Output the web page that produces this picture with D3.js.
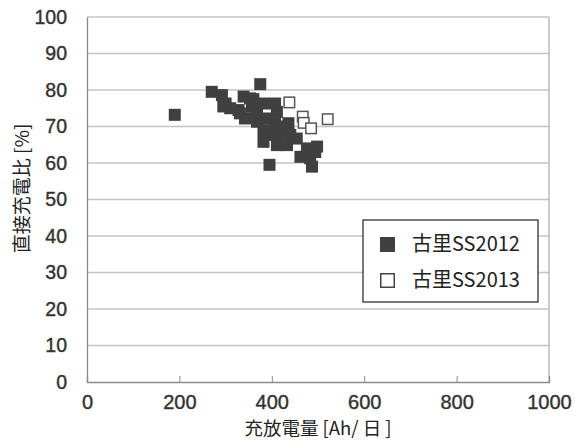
<!DOCTYPE html>
<html><head><meta charset="utf-8">
<script src="https://cdn.jsdelivr.net/npm/d3@7"></script>
<style>body{margin:0;background:#fff}svg{display:block}</style>
</head><body>
<script>
const xTicks = [0, 200, 400, 600, 800, 1000];
const yTicks = [0, 10, 20, 30, 40, 50, 60, 70, 80, 90, 100];
const seriesNames = ["古里SS2012", "古里SS2013"];
// 古里SS2012 (filled)
const ss2012X = [190, 270, 292, 295, 300, 310, 328, 331, 339, 342, 353, 357, 360, 368, 368, 375, 382, 382, 382, 389, 395, 404, 407, 407, 411, 411, 422, 425, 433, 436, 440, 454, 462, 476, 483, 487, 494, 498, 395, 415];
const ss2012Y = [73.2, 79.5, 78.6, 75.5, 76.3, 75, 74.5, 73.6, 78.2, 72.2, 77.7, 75.4, 77.5, 73.6, 71.3, 81.6, 76.3, 69, 65.8, 72.2, 59.5, 67.7, 76.3, 70.9, 74, 64.9, 68.6, 70, 64.9, 70.9, 67.7, 66.7, 61.7, 64, 61.3, 59, 63, 64.5, 68, 66];
// 古里SS2013 (open)
const ss2013X = [438, 467, 469, 485, 521];
const ss2013Y = [76.6, 72.7, 71, 69.5, 72];

const W = 575, H = 441;
const m = {l: 87, r: 26, t: 17, b: 59};
const svg = d3.select("body").append("svg").attr("width", W).attr("height", H);
const x = d3.scaleLinear().domain([0, 1000]).range([m.l, W - m.r]);
const y = d3.scaleLinear().domain([0, 100]).range([H - m.b, m.t]);
const font = "'Liberation Sans', Arial, sans-serif";
const cjk = "'Noto Sans CJK JP', 'Noto Sans CJK SC', sans-serif";

// gridlines
svg.append("g").selectAll("line").data(yTicks.filter(d => d > 0)).join("line")
  .attr("x1", x(0)).attr("x2", x(1000)).attr("y1", d => y(d)).attr("y2", d => y(d))
  .attr("stroke", "#c4c4c4").attr("stroke-width", 1.3);
// right border
svg.append("line").attr("x1", x(1000)).attr("x2", x(1000)).attr("y1", y(100)).attr("y2", y(0))
  .attr("stroke", "#b0b0b0").attr("stroke-width", 1.3);

// x axis
const xAxis = d3.axisBottom(x).tickValues(xTicks).tickSize(-6).tickPadding(13).tickFormat(d3.format("d"));
const gx = svg.append("g").attr("transform", `translate(0,${y(0)})`).call(xAxis);
gx.select(".domain").attr("stroke", "#8a8a8a").attr("stroke-width", 1.3);
gx.selectAll(".tick line").attr("stroke", "#8a8a8a");
gx.selectAll("text").attr("font-family", font).attr("font-size", 20).attr("fill", "#333")
  .attr("stroke", "#333").attr("stroke-width", 0.4);

// y axis
const yAxis = d3.axisLeft(y).tickValues(yTicks).tickSize(0).tickPadding(20);
const gy = svg.append("g").attr("transform", `translate(${x(0)},0)`).call(yAxis);
gy.select(".domain").attr("stroke", "#8a8a8a").attr("stroke-width", 1.3);
gy.selectAll("text").attr("font-family", font).attr("font-size", 19.5).attr("fill", "#333")
  .attr("stroke", "#333").attr("stroke-width", 0.4);

// axis titles
svg.append("text").attr("x", (x(0) + x(1000)) / 2).attr("y", 435).attr("text-anchor", "middle")
  .attr("font-family", cjk).attr("font-size", 18.5).attr("fill", "#222").text("充放電量 [Ah/ 日 ]");
svg.append("text").attr("transform", `translate(29,${(y(0) + y(100)) / 2 - 11}) rotate(-90)`)
  .attr("text-anchor", "middle").attr("font-family", cjk).attr("font-size", 19).attr("fill", "#222")
  .text("直接充電比 [%]");

// points
const s = 12;
const d2012 = ss2012X.map((v, i) => ({x: v, y: ss2012Y[i]}));
const d2013 = ss2013X.map((v, i) => ({x: v, y: ss2013Y[i]}));
svg.append("g").selectAll("rect").data(d2012).join("rect")
  .attr("x", d => x(d.x) - s / 2).attr("y", d => y(d.y) - s / 2).attr("width", s).attr("height", s)
  .attr("fill", "#404040");
svg.append("g").selectAll("rect").data(d2013).join("rect")
  .attr("x", d => x(d.x) - s / 2 + 0.75).attr("y", d => y(d.y) - s / 2 + 0.75).attr("width", s - 1.5).attr("height", s - 1.5)
  .attr("fill", "#fff").attr("stroke", "#555").attr("stroke-width", 1.5);

// legend
const lg = svg.append("g");
lg.append("rect").attr("x", 363).attr("y", 220).attr("width", 175).attr("height", 82)
  .attr("fill", "#fff").attr("stroke", "#222").attr("stroke-width", 1.2);
seriesNames.forEach((name, i) => {
  const cy = 244 + i * 36;
  if (i === 0) lg.append("rect").attr("x", 380).attr("y", cy - 7).attr("width", 15).attr("height", 15).attr("fill", "#404040");
  else lg.append("rect").attr("x", 380.75).attr("y", cy - 6.25).attr("width", 13.5).attr("height", 13.5).attr("fill", "#fff").attr("stroke", "#444").attr("stroke-width", 1.5);
  lg.append("text").attr("x", 412).attr("y", cy + 7).attr("font-family", cjk).attr("font-size", 20).attr("fill", "#222").text(name);
});
</script>
</body></html>
